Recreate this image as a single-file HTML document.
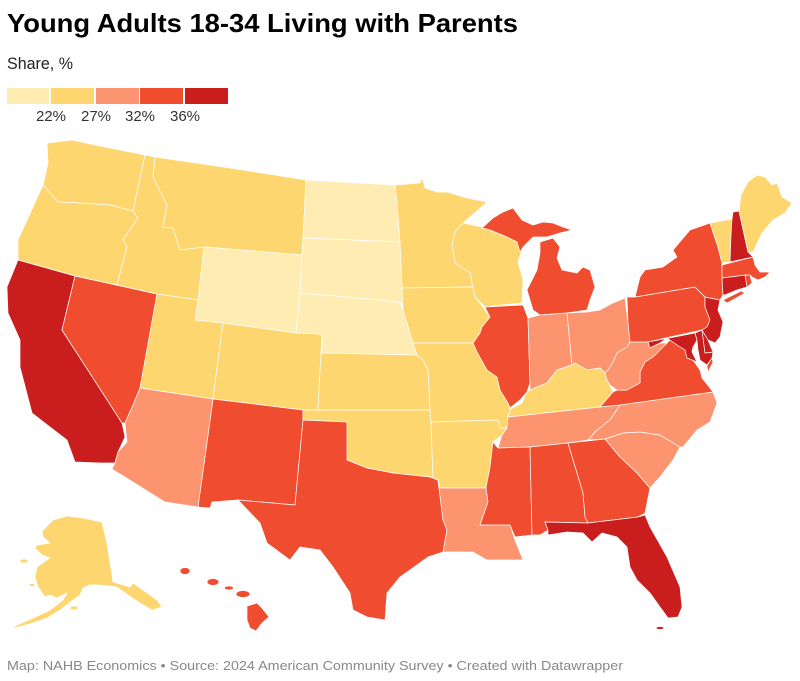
<!DOCTYPE html>
<html><head><meta charset="utf-8"><style>
html,body{margin:0;padding:0;background:#fff;}
svg{display:block;}
text{font-family:"Liberation Sans",sans-serif;}
.s path,.s polygon,.s ellipse{stroke:#fff;stroke-width:0.7;stroke-linejoin:round;}
.a{fill:#feecb3}.b{fill:#fed66f}.c{fill:#fc9470}.d{fill:#f04c30}.e{fill:#c91d1e}
</style></head><body>
<svg width="800" height="681" viewBox="0 0 800 681" xmlns="http://www.w3.org/2000/svg">
<rect width="800" height="681" fill="#fff"/>
<text x="7" y="32" font-size="26" font-weight="bold" fill="#000" textLength="511" lengthAdjust="spacingAndGlyphs">Young Adults 18-34 Living with Parents</text>
<text x="7" y="69" font-size="17" fill="#222" textLength="66" lengthAdjust="spacingAndGlyphs">Share, %</text>
<rect x="7" y="88" width="42" height="16" fill="#feecb3"/>
<rect x="51" y="88" width="43" height="16" fill="#fed66f"/>
<rect x="96" y="88" width="43" height="16" fill="#fc9470"/>
<rect x="140" y="88" width="43" height="16" fill="#f04c30"/>
<rect x="185" y="88" width="43" height="16" fill="#c91d1e"/>
<g font-size="15" fill="#333" text-anchor="middle">
<text x="51" y="121">22%</text><text x="96" y="121">27%</text><text x="140" y="121">32%</text><text x="185" y="121">36%</text>
</g>
<g class="s">
<!-- West -->
<polygon class="b" points="47,143 72,140 100,146 145,155 133,211 110,205 80,203 58,202 43,185 48,163"/>
<polygon class="b" points="43,185 58,202 80,203 110,205 133,211 138,218 123,240 127,247 117,285 75,276 18,260 18,240 33,207"/>
<polygon class="e" points="18,260 75,276 62,330 122,423 125,437 118,452 115,463 100,463 75,462 67,440 50,427 32,413 20,367 20,340 8,313 7,287"/>
<polygon class="d" points="75,276 157,294 140,388 133,405 125,423 122,423 62,330"/>
<polygon class="b" points="145,155 155,157 153,177 167,205 163,227 173,228 180,250 204,247 198,300 157,294 117,285 127,247 123,240 138,218 133,211"/>
<polygon class="b" points="155,157 230,168 306,180 303,238 302,255 204,247 180,250 173,228 163,227 167,205 153,177"/>
<polygon class="a" points="204,247 302,255 300,293 296,333 195,320 198,300"/>
<polygon class="b" points="157,294 198,300 195,320 223,323 213,399 140,388"/>
<polygon class="b" points="223,323 296,333 322,334 318,410 303,410 213,399"/>
<polygon class="d" points="213,399 303,410 303,420 295,505 238,500 212,502 210,508 198,507"/>
<polygon class="c" points="140,388 213,399 198,507 165,502 112,469 115,463 118,452 127,442 125,423 133,405"/>
<!-- Plains -->
<polygon class="a" points="306,180 395,185 397,203 400,242 303,238"/>
<polygon class="a" points="303,238 400,242 402,250 403,288 403,305 400,303 380,300 300,293 302,255"/>
<polygon class="a" points="300,293 380,300 400,303 403,310 413,343 417,355 322,353 322,334 296,333"/>
<polygon class="b" points="322,353 417,355 423,360 428,370 430,410 318,410 322,334"/>
<polygon class="b" points="303,410 318,410 430,410 431,422 433,478 430,477 393,473 367,468 347,460 347,422 303,420"/>
<polygon class="d" points="303,420 347,422 347,460 367,468 393,473 430,477 433,478 438,480 443,520 447,530 443,552 428,557 400,577 387,593 385,620 367,617 353,610 350,593 333,567 320,550 300,547 290,560 267,543 260,523 238,500 295,505"/>
<polygon class="b" points="395,185 420,183 422,177 425,188 437,192 447,192 467,198 487,202 463,223 455,232 452,245 455,263 470,273 473,287 402,288 400,242 397,203"/>
<polygon class="b" points="402,288 473,287 475,297 483,307 490,317 482,327 480,333 473,343 413,343 403,310"/>
<polygon class="b" points="413,343 473,343 477,352 487,370 497,377 500,390 508,403 510,410 508,417 507,428 500,428 498,420 431,422 430,410 428,370 423,360 417,355"/>
<polygon class="b" points="431,422 498,420 500,428 507,428 502,435 493,442 490,467 486,488 440,488 438,480 433,478"/>
<polygon class="c" points="440,488 486,488 488,502 480,525 510,525 515,540 523,560 510,560 487,560 473,552 447,552 443,552 447,530 443,520 438,480"/>
<!-- Great Lakes -->
<polygon class="b" points="463,223 482,227 490,230 507,237 517,242 522,250 518,262 523,280 522,303 485,307 475,297 473,287 470,273 455,263 452,245 455,232"/>
<polygon class="d" points="482,228 493,218 503,212 513,208 522,220 533,225 543,222 553,223 563,227 572,230 560,233 547,237 533,237 523,247 520,252 517,242 507,237 490,230"/>
<polygon class="d" points="540,242 553,238 560,247 557,258 562,270 577,273 583,267 590,270 595,287 590,300 587,310 567,313 540,315 533,310 527,290 537,270 540,253"/>
<polygon class="d" points="485,307 523,305 528,318 530,383 527,392 520,400 510,408 508,403 500,390 497,377 487,370 477,352 473,343 480,333 482,327 490,317"/>
<polygon class="c" points="528,318 540,315 567,313 572,365 557,370 547,383 530,390 530,383"/>
<polygon class="c" points="567,313 587,312 600,310 613,303 625,298 628,323 630,342 627,347 617,353 613,362 608,370 605,373 600,368 587,370 575,363 572,365"/>
<polygon class="b" points="508,417 510,410 512,408 522,403 527,392 530,390 547,383 557,370 572,365 575,363 587,370 600,368 605,373 607,380 613,392 600,407"/>
<!-- South -->
<polygon class="c" points="508,417 600,407 620,405 610,420 597,430 588,440 568,443 530,447 498,448 502,435 507,428"/>
<polygon class="d" points="498,448 530,447 532,535 515,537 510,525 480,525 488,502 486,488 490,467 493,442"/>
<polygon class="d" points="530,447 568,443 583,493 585,517 588,523 545,522 548,530 540,535 532,535"/>
<polygon class="d" points="568,443 605,439 620,457 637,473 650,488 645,513 638,517 588,523 585,517 583,493"/>
<polygon class="e" points="545,522 588,523 638,517 645,515 650,527 667,557 680,587 682,607 678,617 668,618 660,607 650,593 637,580 630,567 627,547 617,537 602,533 592,542 583,533 567,532 548,535 548,530"/>
<ellipse class="e" cx="660" cy="628" rx="4" ry="1.5"/>
<polygon class="c" points="605,439 623,433 640,432 660,435 680,447 673,460 660,477 650,488 637,473 620,457"/>
<polygon class="c" points="620,405 713,392 717,403 710,422 697,430 683,447 680,447 660,435 640,432 623,433 605,439 588,440 597,430 610,420"/>
<polygon class="d" points="600,407 613,392 617,390 627,390 640,383 640,372 645,362 653,357 660,350 667,343 670,340 677,345 685,350 687,357 693,360 700,370 702,378 710,388 713,392 620,405"/>
<polygon class="d" points="707,366 712,358 713,362 708,372"/>
<polygon class="c" points="630,342 648,342 650,348 660,343 667,343 660,350 653,357 645,362 640,372 640,383 627,390 617,390 610,385 607,380 605,373 608,370 613,362 617,353 627,347"/>
<!-- Northeast -->
<polygon class="d" points="627,297 635,297 695,287 705,297 705,307 710,320 707,327 702,330 670,337 648,342 630,342 628,323"/>
<polygon class="e" points="648,342 695,333 697,340 693,347 692,352 697,362 687,358 685,350 677,345 667,338 660,343 650,348"/>
<polygon class="e" points="695,333 702,330 705,353 713,352 712,358 707,365 700,360 698,350 697,340"/>
<polygon class="e" points="702,330 708,340 713,352 705,353"/>
<polygon class="e" points="705,297 720,300 718,310 723,322 720,337 715,343 708,340 702,330 707,327 710,320 705,307"/>
<polygon class="d" points="690,230 710,223 718,247 722,263 722,278 723,295 720,300 705,297 695,287 635,297 640,277 645,270 663,267 677,257 673,250"/>
<polygon class="d" points="723,300 741,291 745,293 727,303"/>
<polygon class="e" points="722,278 745,275 747,287 737,290 725,295 723,295"/>
<polygon class="d" points="745,275 750,275 752,283 747,287"/>
<polygon class="d" points="722,265 753,257 755,265 760,272 770,272 765,277 758,280 752,277 750,275 745,275 722,278"/>
<polygon class="b" points="710,223 732,219 731,235 730,262 722,263 718,247"/>
<polygon class="e" points="732,219 733,212 739,211 748,252 753,257 730,262 731,235"/>
<polygon class="b" points="739,211 741,195 748,182 757,175 765,177 772,185 777,183 782,197 792,203 785,213 773,220 762,233 753,252 748,252"/>
<!-- Alaska -->
<polygon class="b" points="43,530 53,520 67,516 83,518 102,522 107,543 113,582 130,587 133,583 147,593 157,600 162,607 152,610 140,603 128,595 117,587 100,585 90,585 83,588 80,595 73,600 60,610 47,618 33,623 15,628 13,627 33,618 50,610 63,600 67,593 57,598 50,595 45,597 38,587 35,577 37,567 50,558 42,555 35,548 37,545 50,543 43,537 42,532"/>
<ellipse class="b" cx="24" cy="561" rx="4" ry="2"/>
<ellipse class="b" cx="32" cy="585" rx="3" ry="1.5"/>
<ellipse class="b" cx="74" cy="608" rx="4" ry="2"/>
<!-- Hawaii -->
<ellipse class="d" cx="185" cy="571" rx="5" ry="3.5"/>
<ellipse class="d" cx="213" cy="582" rx="6" ry="3.5"/>
<ellipse class="d" cx="229" cy="588" rx="4.5" ry="2"/>
<ellipse class="d" cx="243" cy="594" rx="7" ry="3.5"/>
<polygon class="d" points="247,606 257,603 262,608 269,617 262,623 256,631 250,628 247,620"/>
</g>
<text x="7" y="670" font-size="13" fill="#888" textLength="616" lengthAdjust="spacingAndGlyphs">Map: NAHB Economics • Source: 2024 American Community Survey  • Created with Datawrapper</text>
</svg>
</body></html>
